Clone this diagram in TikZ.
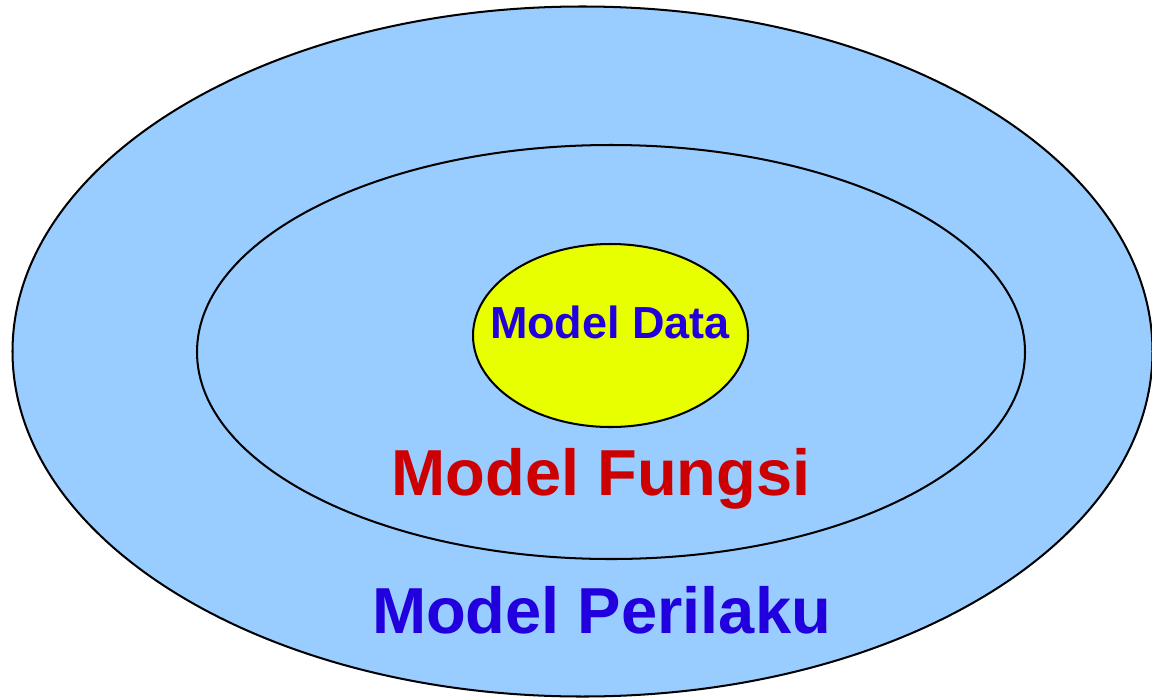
\documentclass[tikz,border=0pt]{standalone}
\usepackage{fontspec}
\setmainfont{Liberation Sans}
\usepackage{tikz}
\usetikzlibrary {calc}

\definecolor{skyfill}{HTML}{99CCFF}
\definecolor{limefill}{HTML}{E8FF00}
\definecolor{labelblue}{HTML}{2200DD}
\definecolor{labelred}{HTML}{CC0000}

\begin{document}
\begin{tikzpicture}[scale = 1, line width = 1.15pt,
    ring/.style = {draw = black, fill = skyfill},
    core/.style = {draw = black, fill = limefill},
    tag/.style = {font = \bfseries, anchor = base, inner sep = 0pt}]

\useasboundingbox (0,0) rectangle (23.04,-13.94);

%centres of the three ellipses
        \coordinate (O) at (11.65,-7.03);
        \coordinate (F) at (12.22,-7.04);
        \coordinate (D) at (12.21,-6.71);

        \draw[ring] (O) ellipse [x radius = 11.4, y radius = 6.9];
        \draw[ring] (F) ellipse [x radius = 8.28, y radius = 4.14];
        \draw[core] (D) ellipse [x radius = 2.75, y radius = 1.83];

        %labels

        \node (data) at (12.2,-6.76) [tag, text = labelblue, font = \fontsize{25.6}{30}\bfseries\selectfont] {Model Data};
        \node (fungsi) at (12.02,-9.9) [tag, text = labelred, font = \fontsize{37}{44}\bfseries\selectfont] {Model Fungsi};
        \node (perilaku) at (12.03,-12.66) [tag, text = labelblue, font = \fontsize{37}{44}\bfseries\selectfont] {Model Perilaku};
\end{tikzpicture}
\end{document}
